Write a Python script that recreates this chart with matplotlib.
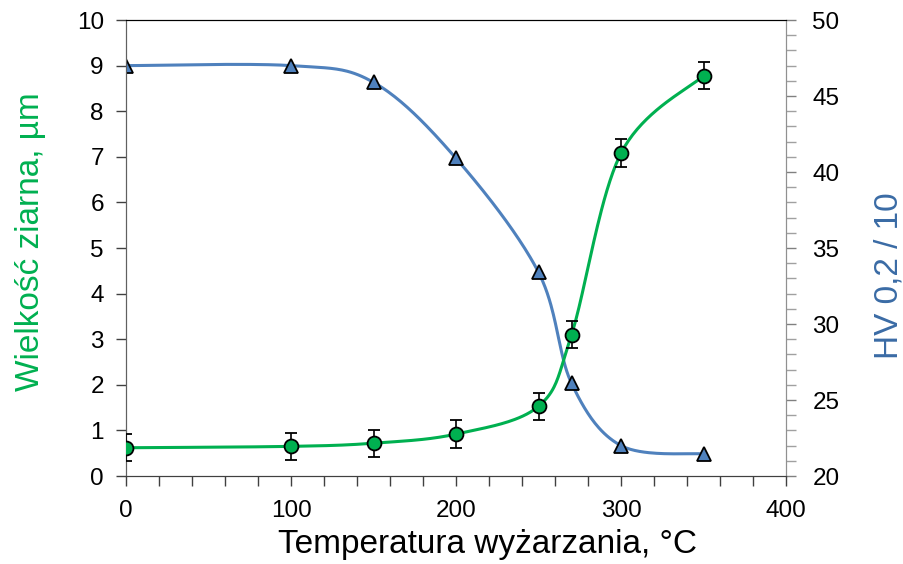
import numpy as np
import matplotlib.pyplot as plt
from matplotlib.ticker import MultipleLocator

plt.rcParams['font.family'] = ['Liberation Sans', 'DejaVu Sans']

# temperatura wyzarzania, °C
temperatura = [0, 100, 150, 200, 250, 270, 300, 350]
# wielkosc ziarna, um (z odchyleniem)
ziarno = [0.62, 0.65, 0.72, 0.92, 1.53, 3.10, 7.08, 8.78]
ziarno_err = [0.3, 0.3, 0.3, 0.3, 0.3, 0.3, 0.3, 0.3]
# twardosc HV 0,2/10
twardosc = [47.0, 47.0, 45.9, 40.9, 33.4, 26.1, 22.0, 21.45]

ZIELONY = '#00B050'
NIEBIESKI = '#4F81BD'


def wygladz(xs, ys, n=40):
    """krzywa wygladzona jak w Excelu (Bezier z punktami kontrolnymi Catmull-Rom)"""
    xs = np.asarray(xs, float)
    ys = np.asarray(ys, float)
    px = np.concatenate([[xs[0]], xs, [xs[-1]]])
    py = np.concatenate([[ys[0]], ys, [ys[-1]]])
    ox, oy = [], []
    t = np.linspace(0, 1, n)
    for i in range(1, len(px) - 2):
        p0 = np.array([px[i], py[i]])
        p3 = np.array([px[i + 1], py[i + 1]])
        p1 = p0 + (p3 - np.array([px[i - 1], py[i - 1]])) / 6
        p2 = p3 - (np.array([px[i + 2], py[i + 2]]) - p0) / 6
        b = ((1 - t) ** 3)[:, None] * p0 + (3 * (1 - t) ** 2 * t)[:, None] * p1 \
            + (3 * (1 - t) * t ** 2)[:, None] * p2 + (t ** 3)[:, None] * p3
        ox.extend(b[:, 0])
        oy.extend(b[:, 1])
    return np.array(ox), np.array(oy)


fig = plt.figure(figsize=(9.04, 5.64), dpi=100)
ax = fig.add_axes([0.1394, 0.156, 0.7301, 0.8085])
ax2 = ax.twinx()

# twardosc na prawej osi
hx, hy = wygladz(temperatura, twardosc)
ax2.plot(hx, hy, color=NIEBIESKI, lw=2.2, zorder=2)
ax2.plot(temperatura, twardosc, ls='none', marker='^', ms=10,
         mfc=NIEBIESKI, mec='black', mew=1.3, zorder=3)
ax2.set_ylim(20, 50)
ax2.yaxis.set_major_locator(MultipleLocator(5))
ax2.yaxis.set_minor_locator(MultipleLocator(1))
ax2.tick_params(axis='y', which='major', direction='out', length=7, width=1,
                color='#808080', labelsize=17.5, pad=12)
ax2.tick_params(axis='y', which='minor', direction='out', length=7, width=1,
                color='#A0A0A0')
ax2.set_ylabel('HV 0,2 / 10', color='#3A6BA5', fontsize=24)
ax2.yaxis.set_label_coords(1.132, 0.4386)

# wielkosc ziarna na lewej osi, rysowana nad twardoscia
ax.set_zorder(ax2.get_zorder() + 1)
ax.patch.set_visible(False)
zx, zy = wygladz(temperatura, ziarno)
ax.plot(zx, zy, color=ZIELONY, lw=2.2, zorder=2)
ax.errorbar(temperatura, ziarno, yerr=ziarno_err, ls='none', marker='o', ms=10,
            mfc=ZIELONY, mec='black', mew=1.3, ecolor='black', elinewidth=1.2,
            capsize=4, capthick=1.2, zorder=3)
ax.set_xlim(0, 400)
ax.set_ylim(0, 10)
ax.xaxis.set_major_locator(MultipleLocator(100))
ax.xaxis.set_minor_locator(MultipleLocator(20))
ax.yaxis.set_major_locator(MultipleLocator(1))
ax.tick_params(axis='both', which='major', direction='out', length=7, width=1,
               color='#404040', labelsize=17.5)
ax.tick_params(axis='x', which='minor', direction='out', length=7, width=1,
               color='#404040')
ax.tick_params(axis='y', pad=9)
ax.tick_params(axis='x', pad=10)
ax.set_xlabel('Temperatura wyżarzania, °C', fontsize=24)
ax.xaxis.set_label_coords(0.547, -0.116)
ax.set_ylabel('Wielkość ziarna, µm', color=ZIELONY, fontsize=24)
ax.yaxis.set_label_coords(-0.121, 0.513)

for a in (ax, ax2):
    a.spines['top'].set_color('black')
    a.spines['bottom'].set_color('#404040')
    a.spines['left'].set_color('#606060')
    a.spines['right'].set_color('#909090')

fig.savefig('out.png', dpi=100)
